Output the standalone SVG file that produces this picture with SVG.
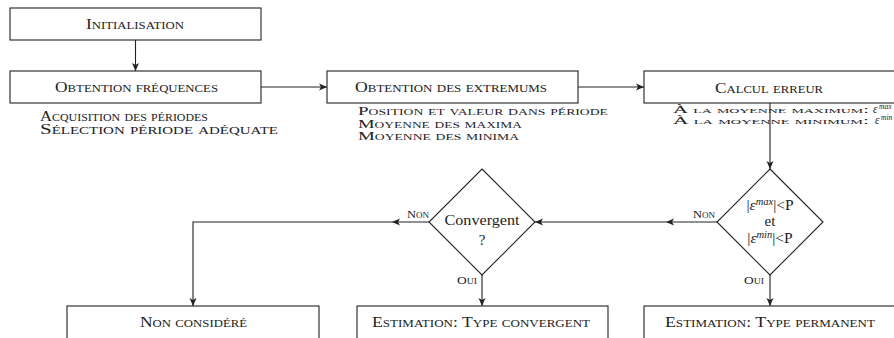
<svg xmlns="http://www.w3.org/2000/svg" width="894" height="338" viewBox="0 0 894 338">
<defs>
<style>
.box{fill:#fff;stroke:#222;stroke-width:1.1}
.line{fill:none;stroke:#222;stroke-width:1.1}
text{font-family:"Liberation Serif","Times New Roman",serif;fill:#222}
.sc{font-variant:small-caps}
.lbl{font-size:15px;text-anchor:middle}
.sub{font-size:14px}
.sub2{font-size:12.5px}
.sub3{font-size:10.5px}
.tag{font-size:11px}
.dia{font-size:15px;text-anchor:middle}
.it{font-style:italic}
</style>
<marker id="ah" markerWidth="10" markerHeight="8" refX="8" refY="4" orient="auto" markerUnits="userSpaceOnUse">
<path d="M0,0.5 L8,4 L0,7.5 L2,4 Z" fill="#222"/>
</marker>
</defs>
<rect width="894" height="338" fill="#fff"/>

<g id="connectors">
<path class="line" d="M135.5,40 L135.5,71" marker-end="url(#ah)"/>
<path class="line" d="M261,87 L327,87" marker-end="url(#ah)"/>
<path class="line" d="M578,87 L644,87" marker-end="url(#ah)"/>
<path class="line" d="M770,103 L770,169" marker-end="url(#ah)"/>
<path class="line" d="M717,222 L666,222 L535,222" marker-mid="url(#ah)" marker-end="url(#ah)"/>
<path class="line" d="M429,222 L392,222" marker-end="url(#ah)"/>
<path class="line" d="M392,222 L193,222 L193,306" marker-end="url(#ah)"/>
<path class="line" d="M482,275 L482,306" marker-end="url(#ah)"/>
<path class="line" d="M770,275 L770,306" marker-end="url(#ah)"/>
<text class="sc tag" x="693" y="218" textLength="22" lengthAdjust="spacingAndGlyphs">Non</text>
<text class="sc tag" x="407" y="218" textLength="22" lengthAdjust="spacingAndGlyphs">Non</text>
<text class="sc tag" x="457" y="284" textLength="20" lengthAdjust="spacingAndGlyphs">Oui</text>
<text class="sc tag" x="744" y="284" textLength="20" lengthAdjust="spacingAndGlyphs">Oui</text>
</g>

<g id="initialisation">
<rect class="box" x="10" y="8" width="251" height="32"/>
<text class="sc lbl" x="135" y="29" textLength="98" lengthAdjust="spacingAndGlyphs">Initialisation</text>
</g>

<g id="obtention-frequences">
<rect class="box" x="10" y="71" width="251" height="32"/>
<text class="sc lbl" x="136.5" y="92" textLength="163" lengthAdjust="spacingAndGlyphs">Obtention fréquences</text>
<text class="sc sub" x="40" y="120.5" textLength="168" lengthAdjust="spacingAndGlyphs">Acquisition des périodes</text>
<text class="sc sub" x="40" y="134" textLength="238" lengthAdjust="spacingAndGlyphs">Sélection période adéquate</text>
</g>

<g id="obtention-extremums">
<rect class="box" x="327" y="71" width="251" height="32"/>
<text class="sc lbl" x="451" y="92" textLength="192" lengthAdjust="spacingAndGlyphs">Obtention des extremums</text>
<text class="sc sub2" x="358" y="115" textLength="250" lengthAdjust="spacingAndGlyphs">Position et valeur dans période</text>
<text class="sc sub2" x="358" y="127.5" textLength="164" lengthAdjust="spacingAndGlyphs">Moyenne des maxima</text>
<text class="sc sub2" x="358" y="140" textLength="161" lengthAdjust="spacingAndGlyphs">Moyenne des minima</text>
</g>

<g id="calcul-erreur">
<rect class="box" x="644" y="71" width="251" height="32"/>
<text class="sc lbl" x="769" y="93" textLength="108" lengthAdjust="spacingAndGlyphs">Calcul erreur</text>
<text class="sc sub3" x="673" y="113" textLength="196" lengthAdjust="spacingAndGlyphs">À la moyenne maximum:</text>
<text class="it" x="873" y="113" font-size="11.5">ε</text>
<text class="it" x="879" y="108.5" font-size="7.5">max</text>
<text class="sc sub3" x="673" y="123.5" textLength="196" lengthAdjust="spacingAndGlyphs">À la moyenne minimum:</text>
<text class="it" x="875" y="123.5" font-size="11.5">ε</text>
<text class="it" x="881" y="120" font-size="7.5">min</text>
</g>

<g id="test-erreur">
<polygon class="box" points="770,169 823,222 770,275 717,222"/>
<text x="770" y="210" font-size="15.5" text-anchor="middle">|<tspan class="it">ε</tspan><tspan class="it" font-size="10.5" dy="-5">max</tspan><tspan dy="5">|&lt;P</tspan></text>
<text class="dia" x="770" y="226">et</text>
<text x="770" y="243" font-size="15.5" text-anchor="middle">|<tspan class="it">ε</tspan><tspan class="it" font-size="10.5" dy="-5">min</tspan><tspan dy="5">|&lt;P</tspan></text>
</g>

<g id="convergent">
<polygon class="box" points="482,169 535,222 482,275 429,222"/>
<text class="dia" x="482" y="225" textLength="75" lengthAdjust="spacingAndGlyphs">Convergent</text>
<text class="dia" x="482" y="245">?</text>
</g>

<g id="non-considere">
<rect class="box" x="67" y="306" width="252" height="34"/>
<text class="sc lbl" x="193.5" y="327" textLength="107" lengthAdjust="spacingAndGlyphs">Non considéré</text>
</g>

<g id="estimation-convergent">
<rect class="box" x="357" y="306" width="251" height="34"/>
<text class="sc lbl" x="481" y="327" textLength="218" lengthAdjust="spacingAndGlyphs">Estimation: Type convergent</text>
</g>

<g id="estimation-permanent">
<rect class="box" x="644" y="306" width="251" height="34"/>
<text class="sc lbl" x="770" y="327" textLength="210" lengthAdjust="spacingAndGlyphs">Estimation: Type permanent</text>
</g>
</svg>
